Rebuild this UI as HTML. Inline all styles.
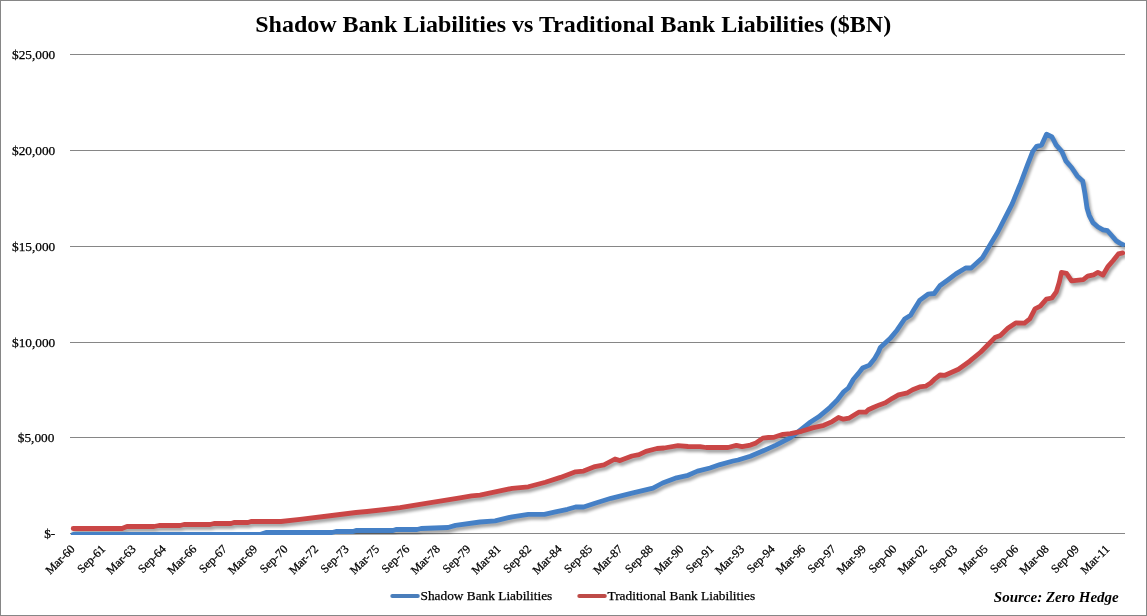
<!DOCTYPE html>
<html lang="en">
<head>
<meta charset="utf-8">
<title>Shadow Bank Liabilities vs Traditional Bank Liabilities ($BN)</title>
<style>
html,body{margin:0;padding:0;background:#fff;}
body{width:1147px;height:616px;overflow:hidden;}
svg{display:block;}
text{font-family:"Liberation Serif","Times New Roman",serif;fill:#000;}
.ax{font-size:13.33px;stroke:#000;stroke-width:0.25px;}
.xl{font-size:12px;stroke:#000;stroke-width:0.25px;}
.title{font-size:24px;font-weight:bold;}
.src{font-size:15px;font-weight:bold;font-style:italic;}
</style>
</head>
<body>
<svg width="1147" height="616" viewBox="0 0 1147 616">
<defs>
<clipPath id="plot"><rect x="70" y="40" width="1055" height="495"/></clipPath>
<filter id="sh" x="-5%" y="-5%" width="110%" height="110%" filterUnits="objectBoundingBox">
<feGaussianBlur in="SourceAlpha" stdDeviation="1.7" result="b"/>
<feOffset in="b" dx="1.6" dy="3.0" result="o"/>
<feComponentTransfer in="o" result="s"><feFuncA type="linear" slope="0.36"/></feComponentTransfer>

</filter>
</defs>
<rect x="0" y="0" width="1147" height="616" fill="#fff"/>
<rect x="0.5" y="0.5" width="1146" height="615" fill="none" stroke="#868686" stroke-width="1"/>
<text class="title" transform="translate(573.2,32)" text-anchor="middle">Shadow Bank Liabilities vs Traditional Bank Liabilities ($BN)</text>
<g stroke="#868686" stroke-width="1" shape-rendering="crispEdges">
<line x1="70" y1="54.5" x2="1125" y2="54.5"/>
<line x1="70" y1="150.5" x2="1125" y2="150.5"/>
<line x1="70" y1="246.5" x2="1125" y2="246.5"/>
<line x1="70" y1="342.5" x2="1125" y2="342.5"/>
<line x1="70" y1="437.5" x2="1125" y2="437.5"/>
<line x1="70" y1="533.5" x2="1125" y2="533.5"/>
</g>
<g class="ax" text-anchor="end">
<text transform="translate(55.3,59)">$25,000</text>
<text transform="translate(55.3,155)">$20,000</text>
<text transform="translate(55.3,251)">$15,000</text>
<text transform="translate(55.3,347)">$10,000</text>
<text transform="translate(54.4,442)">$5,000</text>
<text transform="translate(55.3,538)">$-</text>
</g>
<g class="xl" text-anchor="end">
<text transform="translate(75.5,549.7) rotate(-45)">Mar-60</text>
<text transform="translate(106.0,549.7) rotate(-45)">Sep-61</text>
<text transform="translate(136.4,549.7) rotate(-45)">Mar-63</text>
<text transform="translate(166.8,549.7) rotate(-45)">Sep-64</text>
<text transform="translate(197.3,549.7) rotate(-45)">Mar-66</text>
<text transform="translate(227.7,549.7) rotate(-45)">Sep-67</text>
<text transform="translate(258.1,549.7) rotate(-45)">Mar-69</text>
<text transform="translate(288.6,549.7) rotate(-45)">Sep-70</text>
<text transform="translate(319.0,549.7) rotate(-45)">Mar-72</text>
<text transform="translate(349.4,549.7) rotate(-45)">Sep-73</text>
<text transform="translate(379.9,549.7) rotate(-45)">Mar-75</text>
<text transform="translate(410.3,549.7) rotate(-45)">Sep-76</text>
<text transform="translate(440.7,549.7) rotate(-45)">Mar-78</text>
<text transform="translate(471.2,549.7) rotate(-45)">Sep-79</text>
<text transform="translate(501.6,549.7) rotate(-45)">Mar-81</text>
<text transform="translate(532.0,549.7) rotate(-45)">Sep-82</text>
<text transform="translate(562.5,549.7) rotate(-45)">Mar-84</text>
<text transform="translate(592.9,549.7) rotate(-45)">Sep-85</text>
<text transform="translate(623.3,549.7) rotate(-45)">Mar-87</text>
<text transform="translate(653.8,549.7) rotate(-45)">Sep-88</text>
<text transform="translate(684.2,549.7) rotate(-45)">Mar-90</text>
<text transform="translate(714.6,549.7) rotate(-45)">Sep-91</text>
<text transform="translate(745.1,549.7) rotate(-45)">Mar-93</text>
<text transform="translate(775.5,549.7) rotate(-45)">Sep-94</text>
<text transform="translate(805.9,549.7) rotate(-45)">Mar-96</text>
<text transform="translate(836.4,549.7) rotate(-45)">Sep-97</text>
<text transform="translate(866.8,549.7) rotate(-45)">Mar-99</text>
<text transform="translate(897.2,549.7) rotate(-45)">Sep-00</text>
<text transform="translate(927.7,549.7) rotate(-45)">Mar-02</text>
<text transform="translate(958.1,549.7) rotate(-45)">Sep-03</text>
<text transform="translate(988.5,549.7) rotate(-45)">Mar-05</text>
<text transform="translate(1018.9,549.7) rotate(-45)">Sep-06</text>
<text transform="translate(1049.4,549.7) rotate(-45)">Mar-08</text>
<text transform="translate(1079.8,549.7) rotate(-45)">Sep-09</text>
<text transform="translate(1110.2,549.7) rotate(-45)">Mar-11</text>
</g>
<g clip-path="url(#plot)" fill="none" stroke-width="4.8" stroke-linejoin="round" stroke-linecap="round">
<g filter="url(#sh)" stroke="#000">
<polyline points="73.2,534.5 260.0,534.5 266.0,532.5 332.0,532.5 336.0,531.5 353.0,531.5 356.0,530.5 393.0,530.5 396.0,529.5 417.0,529.5 421.0,528.5 448.0,527.5 455.5,525.4 480.0,522.0 495.1,520.9 512.2,516.8 528.3,514.3 544.4,514.3 555.5,511.8 567.5,509.3 575.6,507.0 583.6,507.0 595.0,503.2 611.0,498.3 632.0,493.2 653.0,488.1 662.6,483.0 676.6,477.8 688.0,475.3 697.5,471.1 710.0,468.0 720.0,464.6 733.0,461.0 738.0,460.0 750.3,456.2 760.3,452.0 770.4,447.6 776.0,445.1 780.4,442.8 790.5,437.6 800.5,430.0 810.6,422.0 818.7,416.8 825.0,411.6 830.1,407.3 837.1,400.3 843.3,392.2 848.4,388.0 853.4,379.2 858.4,373.4 862.6,368.0 869.5,365.1 874.3,359.1 878.4,352.0 880.3,347.5 890.0,338.6 897.0,330.2 904.6,319.0 910.6,315.2 913.4,310.6 919.6,300.4 928.0,294.2 934.2,293.5 939.8,285.8 947.5,280.2 955.9,273.9 965.6,268.0 971.2,268.0 982.4,257.8 989.4,246.0 997.8,232.0 1012.2,203.8 1020.8,182.8 1027.6,164.7 1032.8,151.4 1036.7,146.3 1041.6,145.1 1046.5,134.2 1052.0,137.0 1056.2,145.1 1061.8,151.4 1066.0,161.2 1071.6,167.5 1077.2,175.9 1082.7,181.0 1084.9,193.4 1087.0,208.0 1089.2,215.3 1092.9,222.6 1098.0,227.0 1103.1,229.9 1107.5,230.7 1111.9,235.8 1116.3,240.9 1119.9,243.1 1122.9,244.6"/>
<polyline points="73.2,528.5 122.0,528.5 127.0,526.5 154.0,526.5 159.0,525.5 180.0,525.5 184.0,524.5 210.0,524.5 214.0,523.5 231.0,523.5 234.0,522.5 248.0,522.5 251.0,521.5 281.0,521.5 300.0,519.4 328.0,516.0 356.0,512.5 367.0,511.5 385.0,509.5 400.0,507.7 426.0,503.4 440.0,501.1 460.0,497.8 471.6,495.9 480.0,495.2 512.2,488.3 528.3,486.8 545.4,482.2 560.5,477.4 575.6,471.8 583.6,471.1 595.0,466.6 604.0,464.8 615.0,459.0 620.0,460.6 632.0,456.0 639.0,454.7 646.0,451.3 657.0,448.5 664.0,448.0 678.0,445.7 688.0,446.5 700.0,446.6 706.0,447.5 728.0,447.5 736.4,445.4 742.0,446.6 750.5,445.1 756.0,442.9 762.8,438.1 768.4,437.5 774.0,437.3 783.0,434.3 790.4,433.6 801.5,431.3 812.6,427.9 823.8,425.3 832.2,421.6 838.5,417.5 843.4,419.2 848.9,418.2 858.7,412.2 865.7,412.2 868.3,409.8 873.3,407.5 879.4,404.9 885.4,402.8 892.4,398.3 898.5,394.8 907.5,392.8 912.6,389.7 919.6,386.9 925.6,386.2 930.7,383.0 935.3,378.6 940.0,375.0 945.0,375.3 958.5,369.3 969.7,361.2 980.8,352.0 987.7,345.0 994.9,337.6 1000.4,335.4 1007.8,328.3 1015.7,322.9 1024.5,323.1 1029.8,318.9 1035.0,308.8 1040.3,306.2 1046.4,299.2 1051.9,298.0 1056.3,291.9 1059.2,282.4 1061.4,272.4 1066.5,273.3 1071.6,280.9 1083.3,279.7 1087.7,276.2 1093.5,274.8 1097.9,272.4 1103.0,275.0 1108.1,266.3 1113.2,260.5 1118.4,253.9 1122.7,252.9"/>
</g>
<polyline stroke="#4580C6" points="73.2,534.5 260.0,534.5 266.0,532.5 332.0,532.5 336.0,531.5 353.0,531.5 356.0,530.5 393.0,530.5 396.0,529.5 417.0,529.5 421.0,528.5 448.0,527.5 455.5,525.4 480.0,522.0 495.1,520.9 512.2,516.8 528.3,514.3 544.4,514.3 555.5,511.8 567.5,509.3 575.6,507.0 583.6,507.0 595.0,503.2 611.0,498.3 632.0,493.2 653.0,488.1 662.6,483.0 676.6,477.8 688.0,475.3 697.5,471.1 710.0,468.0 720.0,464.6 733.0,461.0 738.0,460.0 750.3,456.2 760.3,452.0 770.4,447.6 776.0,445.1 780.4,442.8 790.5,437.6 800.5,430.0 810.6,422.0 818.7,416.8 825.0,411.6 830.1,407.3 837.1,400.3 843.3,392.2 848.4,388.0 853.4,379.2 858.4,373.4 862.6,368.0 869.5,365.1 874.3,359.1 878.4,352.0 880.3,347.5 890.0,338.6 897.0,330.2 904.6,319.0 910.6,315.2 913.4,310.6 919.6,300.4 928.0,294.2 934.2,293.5 939.8,285.8 947.5,280.2 955.9,273.9 965.6,268.0 971.2,268.0 982.4,257.8 989.4,246.0 997.8,232.0 1012.2,203.8 1020.8,182.8 1027.6,164.7 1032.8,151.4 1036.7,146.3 1041.6,145.1 1046.5,134.2 1052.0,137.0 1056.2,145.1 1061.8,151.4 1066.0,161.2 1071.6,167.5 1077.2,175.9 1082.7,181.0 1084.9,193.4 1087.0,208.0 1089.2,215.3 1092.9,222.6 1098.0,227.0 1103.1,229.9 1107.5,230.7 1111.9,235.8 1116.3,240.9 1119.9,243.1 1122.9,244.6"/>
<polyline stroke="#CA4646" points="73.2,528.5 122.0,528.5 127.0,526.5 154.0,526.5 159.0,525.5 180.0,525.5 184.0,524.5 210.0,524.5 214.0,523.5 231.0,523.5 234.0,522.5 248.0,522.5 251.0,521.5 281.0,521.5 300.0,519.4 328.0,516.0 356.0,512.5 367.0,511.5 385.0,509.5 400.0,507.7 426.0,503.4 440.0,501.1 460.0,497.8 471.6,495.9 480.0,495.2 512.2,488.3 528.3,486.8 545.4,482.2 560.5,477.4 575.6,471.8 583.6,471.1 595.0,466.6 604.0,464.8 615.0,459.0 620.0,460.6 632.0,456.0 639.0,454.7 646.0,451.3 657.0,448.5 664.0,448.0 678.0,445.7 688.0,446.5 700.0,446.6 706.0,447.5 728.0,447.5 736.4,445.4 742.0,446.6 750.5,445.1 756.0,442.9 762.8,438.1 768.4,437.5 774.0,437.3 783.0,434.3 790.4,433.6 801.5,431.3 812.6,427.9 823.8,425.3 832.2,421.6 838.5,417.5 843.4,419.2 848.9,418.2 858.7,412.2 865.7,412.2 868.3,409.8 873.3,407.5 879.4,404.9 885.4,402.8 892.4,398.3 898.5,394.8 907.5,392.8 912.6,389.7 919.6,386.9 925.6,386.2 930.7,383.0 935.3,378.6 940.0,375.0 945.0,375.3 958.5,369.3 969.7,361.2 980.8,352.0 987.7,345.0 994.9,337.6 1000.4,335.4 1007.8,328.3 1015.7,322.9 1024.5,323.1 1029.8,318.9 1035.0,308.8 1040.3,306.2 1046.4,299.2 1051.9,298.0 1056.3,291.9 1059.2,282.4 1061.4,272.4 1066.5,273.3 1071.6,280.9 1083.3,279.7 1087.7,276.2 1093.5,274.8 1097.9,272.4 1103.0,275.0 1108.1,266.3 1113.2,260.5 1118.4,253.9 1122.7,252.9"/>
</g>
<g fill="none" stroke-width="4" stroke-linecap="round">
<line x1="392.3" y1="596" x2="417.8" y2="596" stroke="#4A7EBB"/>
<line x1="579.3" y1="596" x2="604.8" y2="596" stroke="#BE4B48"/>
</g>
<text class="ax" transform="translate(420.5,600)">Shadow Bank Liabilities</text>
<text class="ax" transform="translate(607.5,600)">Traditional Bank Liabilities</text>
<text class="src" x="993.8" y="602">Source: Zero Hedge</text>
</svg>
</body>
</html>
